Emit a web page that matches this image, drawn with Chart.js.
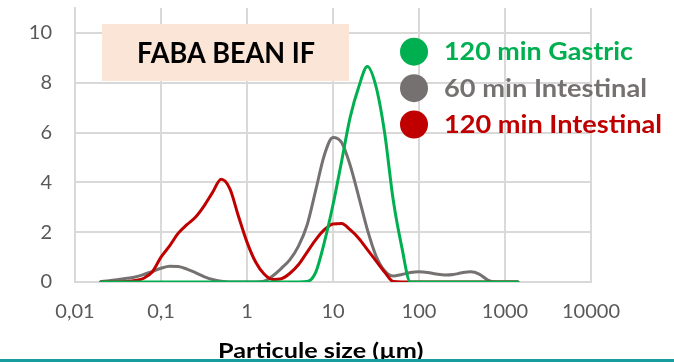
<!DOCTYPE html>
<html>
<head>
<meta charset="utf-8">
<script src="https://cdn.jsdelivr.net/npm/chart.js@4.4.1/dist/chart.umd.min.js"></script>
<style>
  html, body { margin: 0; padding: 0; background: #fff; }
  #wrap { width: 674px; height: 362px; position: relative; }
</style>
</head>
<body>
<div id="wrap"><canvas id="psd" width="674" height="362"></canvas></div>
<script>
// Particle size classes (µm), log-spaced
const sizes = [0.020, 0.025, 0.032, 0.040, 0.050, 0.063, 0.079, 0.100, 0.126, 0.158,
               0.200, 0.251, 0.316, 0.398, 0.501, 0.631, 0.794, 1.00, 1.26, 1.58,
               2.00, 2.51, 3.16, 3.98, 5.01, 6.31, 7.94, 10.0, 12.6, 15.8,
               20.0, 25.1, 31.6, 39.8, 50.1, 63.1, 79.4, 100, 126, 158,
               200, 251, 316, 398, 501, 631, 794, 1000, 1259, 1413];

// Volume density (%) per size class
const gastric120 = [0, 0, 0, 0, 0, 0, 0, 0, 0, 0,
                    0, 0, 0, 0, 0, 0, 0, 0, 0, 0,
                    0, 0, 0, 0, 0.02, 0.4, 1.6, 3.1, 4.85, 6.6,
                    7.85, 8.65, 7.85, 6.0, 3.3, 1.4, 0, 0, 0, 0,
                    0, 0, 0, 0, 0, 0, 0, 0, 0, 0];
const intestinal60 = [0.02, 0.05, 0.1, 0.15, 0.2, 0.3, 0.42, 0.55, 0.63, 0.62,
                      0.52, 0.38, 0.22, 0.1, 0.03, 0, 0, 0, 0, 0.03,
                      0.25, 0.55, 0.9, 1.45, 2.3, 3.7, 5.1, 5.8, 5.6, 4.7,
                      3.4, 2.1, 1.05, 0.45, 0.24, 0.3, 0.38, 0.41, 0.38, 0.32,
                      0.28, 0.3, 0.37, 0.41, 0.32, 0.08, 0, 0, 0, 0];
const intestinal120 = [0, 0, 0, 0.02, 0.06, 0.15, 0.4, 1.0, 1.45, 1.95,
                       2.3, 2.6, 3.05, 3.6, 4.12, 3.75, 2.65, 1.6, 0.8, 0.32,
                       0.1, 0.13, 0.35, 0.7, 1.2, 1.7, 2.1, 2.33, 2.35, 2.1,
                       1.75, 1.3, 0.85, 0.4, 0.02, 0, 0, 0, 0, 0,
                       0, 0, 0, 0, 0, 0, 0, 0, 0, 0];

const seriesNames = ['120 min Gastric', '60 min Intestinal', '120 min Intestinal'];
const xTicks = [0.01, 0.1, 1, 10, 100, 1000, 10000];
const xTickLabels = ['0,01', '0,1', '1', '10', '100', '1000', '10000'];
const yTicks = [0, 2, 4, 6, 8, 10];
const chartTitle = 'FABA BEAN IF';
const xAxisTitle = 'Particule size (µm)';

const GREEN = '#00b050', GREY = '#767171', RED = '#c00000';
const GRID = '#d9d9d9', LABEL = '#595959';
const FONT = "Lato, 'Open Sans', sans-serif";

const toPoints = vals => sizes.map((s, i) => ({ x: s, y: vals[i] }));

// Text squeezed/stretched horizontally to a set width
function fitText(ctx, text, x, y, width, align) {
  const w = ctx.measureText(text).width;
  const s = Math.max(0.75, Math.min(1.2, width / w));
  ctx.save();
  ctx.translate(x, y);
  ctx.scale(s, 1);
  ctx.textAlign = align;
  ctx.fillText(text, 0, 0);
  ctx.restore();
}

const decor = {
  id: 'decor',
  beforeDatasetsDraw(chart) {
    const ctx = chart.ctx;
    // title box
    ctx.save();
    ctx.fillStyle = '#fbe5d6';
    ctx.fillRect(102, 24, 247, 57);
    ctx.fillStyle = '#000';
    ctx.font = 'bold 29px ' + FONT;
    ctx.textBaseline = 'alphabetic';
    fitText(ctx, chartTitle, 226, 62.5, 178, 'center');
    ctx.restore();
  },
  afterDatasetsDraw(chart) {
    const ctx = chart.ctx;
    const ys = [51.7, 88.2, 124.5];
    const widths = [189, 203, 218];
    ctx.save();
    ctx.font = 'bold 24px ' + FONT;
    ctx.textBaseline = 'alphabetic';
    chart.data.datasets.forEach((ds, i) => {
      ctx.fillStyle = ds.borderColor;
      ctx.beginPath();
      ctx.arc(414, ys[i], 14, 0, Math.PI * 2);
      ctx.fill();
      fitText(ctx, ds.label, 444, ys[i] + 8.6, widths[i], 'left');
    });
    ctx.restore();
  },
  afterDraw(chart) {
    const ctx = chart.ctx;
    ctx.save();
    ctx.fillStyle = '#000';
    ctx.font = 'bold 21px ' + FONT;
    ctx.textBaseline = 'alphabetic';
    fitText(ctx, xAxisTitle, 218, 358, 212, 'left');
    ctx.fillStyle = '#179d9d';
    ctx.fillRect(0, 359, 674, 3);
    ctx.restore();
  }
};

new Chart(document.getElementById('psd'), {
  type: 'line',
  data: {
    datasets: [
      { label: seriesNames[0], data: toPoints(gastric120), borderColor: GREEN, order: 0 },
      { label: seriesNames[1], data: toPoints(intestinal60), borderColor: GREY, order: 2 },
      { label: seriesNames[2], data: toPoints(intestinal120), borderColor: RED, order: 1 }
    ]
  },
  options: {
    responsive: false,
    animation: false,
    devicePixelRatio: 1,
    layout: { padding: { top: 8, right: 83, bottom: 0, left: 0 } },
    elements: {
      line: { borderWidth: 3, cubicInterpolationMode: 'monotone', fill: false, borderCapStyle: 'round', borderJoinStyle: 'round' },
      point: { radius: 0, hoverRadius: 0 }
    },
    plugins: { legend: { display: false }, tooltip: { enabled: false }, title: { display: false } },
    scales: {
      x: {
        type: 'logarithmic',
        min: 0.01,
        max: 10000,
        afterBuildTicks(scale) { scale.ticks = xTicks.map(v => ({ value: v })); },
        afterFit(scale) { scale.height = 80; scale.paddingLeft = 0; scale.paddingRight = 0; },
        ticks: {
          autoSkip: false, maxRotation: 0, minRotation: 0,
          padding: 18, color: LABEL,
          font: { family: FONT, size: 20 },
          callback: (v, i) => xTickLabels[i]
        },
        grid: { color: GRID, lineWidth: 2, drawTicks: false },
        border: { color: GRID, width: 2 }
      },
      y: {
        min: 0,
        max: 11,
        afterBuildTicks(scale) { scale.ticks = yTicks.map(v => ({ value: v })); },
        afterFit(scale) { scale.width = 75; scale.paddingTop = 0; scale.paddingBottom = 0; },
        ticks: {
          padding: 23, color: LABEL,
          font: { family: FONT, size: 20 },
          callback: v => String(v)
        },
        grid: { color: GRID, lineWidth: 2, drawTicks: false },
        border: { color: GRID, width: 2 }
      }
    }
  },
  plugins: [decor]
});
</script>
</body>
</html>
